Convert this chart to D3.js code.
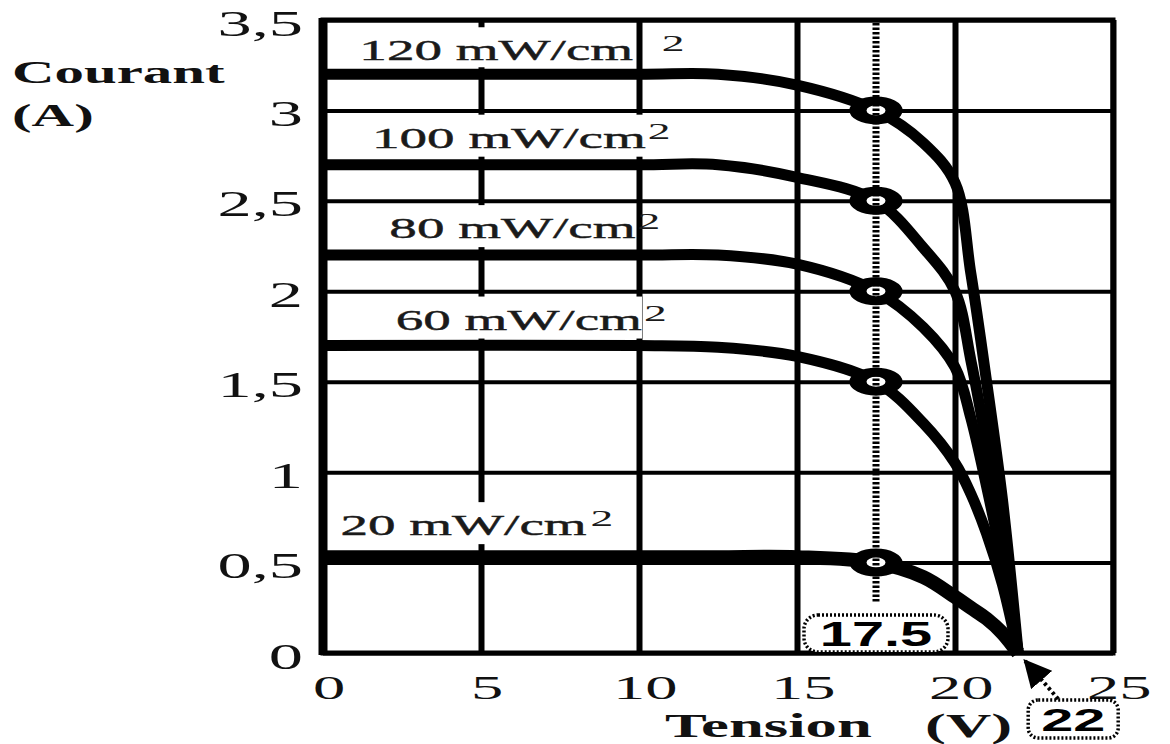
<!DOCTYPE html>
<html>
<head>
<meta charset="utf-8">
<script src="https://cdn.jsdelivr.net/npm/d3@7"></script>
<style>
body{margin:0;background:#fff;}
svg{display:block;}
.serif{font-family:"Liberation Serif","Times New Roman",serif;}
.sans{font-family:"Liberation Sans",Arial,sans-serif;}
</style>
</head>
<body>
<div id="plot"></div>
<script>
// data
var tension = [0, 10, 12.5, 15, 17.5, 19, 20, 20.5, 21, 21.5, 22];
var irr = ['120', '100', '80', '60', '20'];
var i120 = [3.2, 3.2, 3.2, 3.14, 3.0, 2.82, 2.6, 2.1, 1.5, 0.85, 0];
var i100 = [2.7, 2.7, 2.7, 2.63, 2.5, 2.24, 2.0, 1.62, 1.15, 0.6, 0];
var i80  = [2.2, 2.2, 2.2, 2.15, 2.0, 1.8, 1.58, 1.3, 0.92, 0.5, 0];
var i60  = [1.7, 1.7, 1.69, 1.64, 1.5, 1.27, 1.05, 0.88, 0.66, 0.38, 0];
var i20  = [0.53, 0.53, 0.53, 0.53, 0.5, 0.42, 0.31, 0.25, 0.19, 0.11, 0];
var courbes = [i120, i100, i80, i60, i20];
var vMax = 17.5;
var iMax = [3.0, 2.5, 2.0, 1.5, 0.5];
var vOC = 22;
var xTicks = [0, 5, 10, 15, 20, 25];
var yTicks = [0, 0.5, 1, 1.5, 2, 2.5, 3, 3.5];

var W = 1170, H = 744;
var margin = {t:20, r:57, b:91, l:323};
var width = W - margin.l - margin.r,
	height = H - margin.t - margin.b;
var sx = 1.9; // the original is stretched sideways

var svg = d3.select('#plot').append('svg')
	.attr('width', W).attr('height', H);
var plot = svg.append('g')
	.attr('transform', 'translate(' + margin.l + ',' + margin.t + ')');

var x = d3.scaleLinear().domain([0, 25]).range([0, width]);
var y = d3.scaleLinear().domain([0, 3.5]).range([height, 0]);

// grid
plot.append('g').attr('class', 'gridx')
	.attr('transform', 'translate(0,' + height + ')')
	.call(d3.axisBottom(x).tickValues(xTicks).tickSize(-height).tickFormat(''))
	.call(function(g){
		g.select('.domain').remove();
		g.selectAll('line').attr('stroke', '#000').attr('stroke-width', 6);
	});
plot.append('g').attr('class', 'gridy')
	.call(d3.axisLeft(y).tickValues(yTicks).tickSize(-width).tickFormat(''))
	.call(function(g){
		g.select('.domain').remove();
		g.selectAll('line').attr('stroke', '#000').attr('stroke-width', 4);
	});
plot.append('rect')
	.attr('width', width).attr('height', height)
	.attr('fill', 'none').attr('stroke', '#000').attr('stroke-width', 5);
plot.append('line')
	.attr('x1', x(0)).attr('x2', x(0)).attr('y1', -2).attr('y2', height + 2)
	.attr('stroke', '#000').attr('stroke-width', 9);

// tick labels
plot.append('g')
	.attr('transform', 'translate(0,' + height + ')')
	.call(d3.axisBottom(x).tickValues(xTicks).tickSize(0).tickPadding(22))
	.call(function(g){
		g.select('.domain').remove();
		g.selectAll('text').attr('class', 'serif').attr('font-size', 34)
			.attr('fill', '#111').attr('transform', 'scale(' + sx + ',1)')
			.attr('x', 3);
	});
plot.append('g')
	.call(d3.axisLeft(y).tickValues(yTicks).tickSize(0)
		.tickFormat(function(d){ return String(d).replace('.', ','); }))
	.call(function(g){
		g.select('.domain').remove();
		g.selectAll('text').attr('class', 'serif').attr('font-size', 36)
			.attr('fill', '#111').attr('transform', 'scale(' + sx + ',1)')
			.attr('x', -20 / sx).attr('dy', '0.42em');
	});

// curve labels with white backing
var labX = [1.15, 1.55, 2.1, 2.3, 0.55];
var labUp = [14, 17, 17, 16, 22];
var supGap = [14, 0, 0, 0, 1];
courbes.forEach(function(c, k){
	var bx = x(labX[k]), by = y(c[0]) - labUp[k];
	var g = plot.append('g').attr('transform', 'translate(' + bx + ',' + by + ') scale(' + sx + ',1)');
	var bg = g.append('rect').attr('fill', '#fff');
	var t = g.append('text').attr('class', 'serif').attr('font-size', 29).attr('fill', '#1a1a1a')
		.attr('stroke', '#1a1a1a').attr('stroke-width', 0.4)
		.text(irr[k] + ' mW/cm');
	var b = t.node().getBBox();
	bg.attr('x', -4).attr('y', -33).attr('width', b.width + 4).attr('height', k === 0 ? 40 : 42);
	g.append('text').attr('class', 'serif').attr('font-size', 24).attr('fill', '#1a1a1a')
		.attr('x', b.width + supGap[k] + 1).attr('y', -9).text('2');
});

// I-V curves
var line = d3.line()
	.x(function(d, i){ return x(tension[i]); })
	.y(function(d){ return y(d); })
	.curve(d3.curveCatmullRom.alpha(0.5));
plot.selectAll('.courbe')
	.data(courbes)
	.enter().append('path').attr('class', 'courbe')
	.attr('d', line)
	.attr('fill', 'none').attr('stroke', '#000')
	.attr('stroke-width', function(d, i){ return i === 4 ? 14 : 11; })
	.attr('stroke-linejoin', 'round');

// points at 17.5 V
plot.selectAll('.pt')
	.data(iMax)
	.enter().append('circle').attr('class', 'pt')
	.attr('r', 9.5)
	.attr('transform', function(d){ return 'translate(' + x(vMax) + ',' + y(d) + ') scale(' + sx + ',1)'; })
	.attr('fill', '#fff').attr('stroke', '#000').attr('stroke-width', 9);

// dotted vertical at 17.5
plot.append('line')
	.attr('x1', x(vMax)).attr('x2', x(vMax))
	.attr('y1', 3).attr('y2', height - 50)
	.attr('stroke', '#000').attr('stroke-width', 7).attr('stroke-dasharray', '2.5,2');

// 17.5 box
var b1 = plot.append('g').attr('transform', 'translate(' + x(vMax) + ',' + (height - 20) + ')');
b1.append('rect').attr('x', -72).attr('y', -18).attr('width', 144).attr('height', 37).attr('rx', 14)
	.attr('fill', '#fff').attr('stroke', '#000').attr('stroke-width', 3.5).attr('stroke-dasharray', '2,2');
b1.append('text').attr('class', 'sans').attr('font-size', 35).attr('font-weight', 'bold')
	.attr('text-anchor', 'middle').attr('y', 13).attr('transform', 'scale(1.65,1)').text('17.5');

// 22 box and arrow
svg.append('defs').append('marker').attr('id', 'fl')
	.attr('viewBox', '0 0 10 10').attr('refX', 9).attr('refY', 5)
	.attr('markerWidth', 7).attr('markerHeight', 7).attr('orient', 'auto')
	.append('path').attr('d', 'M0,0L10,5L0,10Z').attr('fill', '#000');
plot.append('line')
	.attr('x1', x(vOC) + 40).attr('y1', height + 46)
	.attr('x2', x(vOC) + 7).attr('y2', height + 8)
	.attr('stroke', '#000').attr('stroke-width', 4).attr('stroke-dasharray', '3,3')
	.attr('marker-end', 'url(#fl)');
var b2 = plot.append('g').attr('transform', 'translate(' + (x(vOC) + 55) + ',' + (height + 66) + ')');
b2.append('rect').attr('x', -45).attr('y', -19).attr('width', 90).attr('height', 38).attr('rx', 10)
	.attr('fill', '#fff').attr('stroke', '#000').attr('stroke-width', 3.5).attr('stroke-dasharray', '2,2');
b2.append('text').attr('class', 'sans').attr('font-size', 32).attr('font-weight', 'bold')
	.attr('text-anchor', 'middle').attr('y', 12).attr('transform', 'scale(1.8,1)').text(vOC);

// axis titles
function titre(txt, px, py, fs){
	svg.append('text').attr('class', 'serif').attr('font-size', fs).attr('font-weight', 'bold')
		.attr('fill', '#111')
		.attr('transform', 'translate(' + px + ',' + py + ') scale(' + sx + ',1)').text(txt);
}
titre('Courant', 12, 83, 31);
titre('(A)', 12, 126, 31);
titre('Tension', 665, 737, 33);
titre('(V)', 925, 737, 33);
</script>
</body>
</html>
